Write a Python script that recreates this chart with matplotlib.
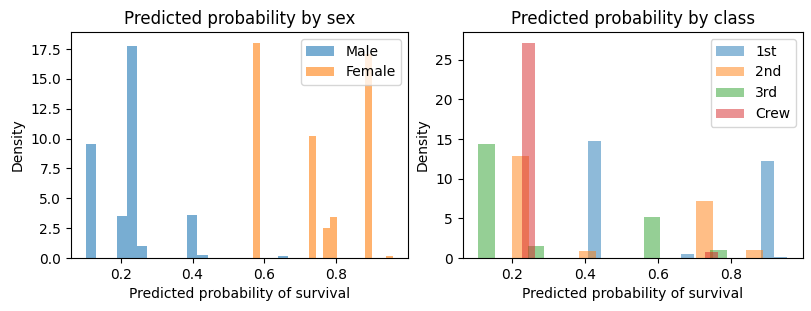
import numpy as np
import matplotlib
matplotlib.use("Agg")
import matplotlib.pyplot as plt

# Histogram bin ranges (min, max) and densities per bin (20 bins for sex, 15 for class)
male_range = (0.1045, 0.667)
male_density = [9.52, 0, 0, 3.51, 17.78, 1.0, 0, 0, 0, 0,
                3.59, 0.25, 0, 0, 0, 0, 0, 0, 0, 0.17]
female_range = (0.567, 0.957)
female_density = [18.03, 0, 0, 0, 0, 0, 0, 0, 10.18, 0,
                  2.5, 3.42, 0, 0, 0, 0, 17.1, 0, 0, 0.17]

first_range = (0.4066, 0.953)
first_density = [14.7, 0, 0, 0, 0, 0, 0, 0.5, 0, 0, 0, 0, 0, 12.19, 0.13]
second_range = (0.2, 0.886)
second_density = [12.81, 0, 0, 0, 0.88, 0, 0, 0, 0, 0, 0, 7.16, 0, 0, 1.0]
third_range = (0.1072, 0.7876)
third_density = [14.32, 0, 0, 1.51, 0, 0, 0, 0, 0, 0, 5.15, 0, 0, 0, 1.0]
crew_range = (0.2275, 0.7628)
crew_density = [27.14, 0, 0, 0, 0, 0, 0, 0, 0, 0, 0, 0, 0, 0, 0.75]

sex_labels = ["Male", "Female"]
class_labels = ["1st", "2nd", "3rd", "Crew"]


def draw(ax, rng, dens, label, alpha):
    n = len(dens)
    edges = np.linspace(rng[0], rng[1], n + 1)
    centers = (edges[:-1] + edges[1:]) / 2
    ax.hist(centers, bins=edges, weights=dens, alpha=alpha, label=label)


fig = plt.figure(figsize=(8.11, 3.11), dpi=100)
ax1 = fig.add_axes([71 / 811, 53 / 311, 337 / 811, 226 / 311])
ax2 = fig.add_axes([462.7 / 811, 53 / 311, 340 / 811, 226 / 311])

draw(ax1, male_range, male_density, sex_labels[0], 0.6)
draw(ax1, female_range, female_density, sex_labels[1], 0.6)
ax1.set_title("Predicted probability by sex")
ax1.set_xlabel("Predicted probability of survival")
ax1.set_ylabel("Density")
ax1.set_yticks(np.arange(0, 17.6, 2.5))
ax1.legend(loc="upper right")

for rng, dens, lab in [(first_range, first_density, class_labels[0]),
                       (second_range, second_density, class_labels[1]),
                       (third_range, third_density, class_labels[2]),
                       (crew_range, crew_density, class_labels[3])]:
    draw(ax2, rng, dens, lab, 0.5)
ax2.set_title("Predicted probability by class")
ax2.set_xlabel("Predicted probability of survival")
ax2.set_ylabel("Density")
ax2.legend(loc="upper right")

fig.savefig("out.png", dpi=100)
